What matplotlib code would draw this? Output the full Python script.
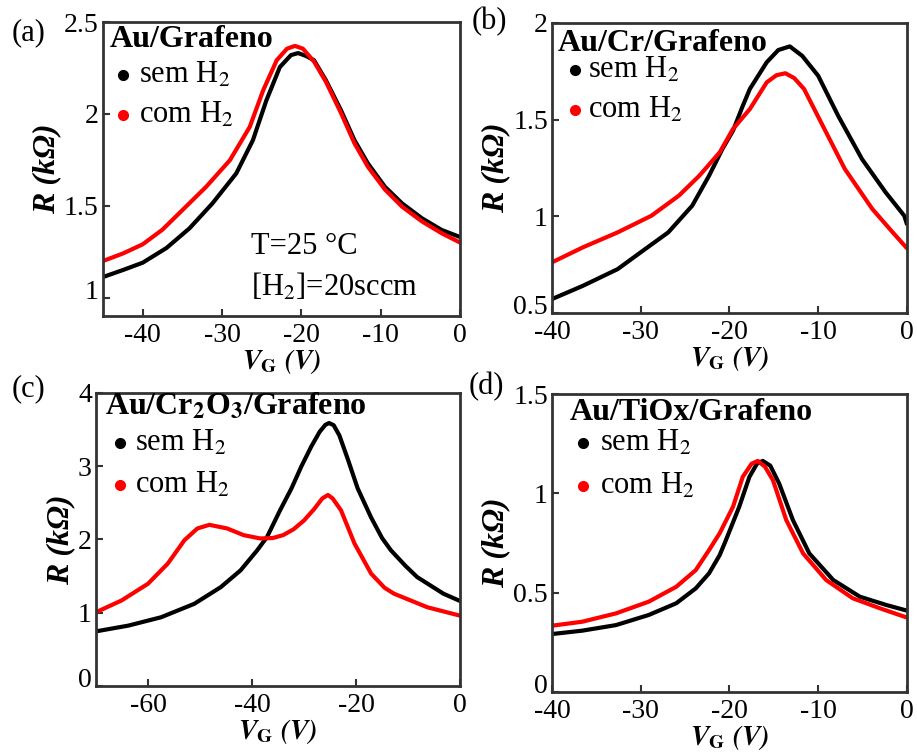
import matplotlib
matplotlib.use('Agg')
import matplotlib.pyplot as plt
import matplotlib.transforms as mtransforms
from matplotlib.ticker import FuncFormatter

plt.rcParams['font.family'] = ['Liberation Serif', 'DejaVu Serif']
plt.rcParams['mathtext.fontset'] = 'stix'
plt.rcParams['axes.unicode_minus'] = False

# (a) Au/Grafeno
va_sem = [-45.2, -42.5, -40, -37, -34.1, -31.2, -28.2, -26.1, -24.4, -22.7, -21.3, -20.4, -19.4, -18.4, -16.9,
          -15.0, -13.3, -11.6, -9.45, -7.3, -4.8, -2.3, 0]
ra_sem = [1.109, 1.15, 1.19, 1.27, 1.377, 1.513, 1.676, 1.857, 2.074, 2.255, 2.32, 2.331, 2.315, 2.292, 2.183,
          2.02, 1.857, 1.73, 1.603, 1.513, 1.432, 1.368, 1.33]
va_com = [-45.2, -42.5, -40, -37.5, -35.4, -32.0, -29.0, -26.5, -24.8, -23.1, -21.8, -20.8, -19.8, -18.4, -16.9,
          -15.0, -13.3, -11.6, -9.45, -7.3, -4.8, -2.3, 0]
ra_com = [1.196, 1.24, 1.29, 1.37, 1.459, 1.603, 1.748, 1.929, 2.129, 2.292, 2.355, 2.37, 2.355, 2.285, 2.175,
          2.005, 1.84, 1.712, 1.588, 1.495, 1.415, 1.35, 1.30]

# (b) Au/Cr/Grafeno
vb_sem = [-40, -36.5, -32.6, -30, -26.9, -24.2, -22.3, -20.8, -19.6, -18.6, -17.7, -15.8, -14.5, -13.2, -11.8,
          -10.0, -7.75, -5.06, -2.4, -0.3, 0]
rb_sem = [0.572, 0.641, 0.727, 0.814, 0.917, 1.055, 1.21, 1.348, 1.443, 1.56, 1.659, 1.797, 1.86, 1.879, 1.83,
          1.727, 1.52, 1.296, 1.124, 1.003, 0.96]
vb_com = [-40, -36.5, -32.6, -28.8, -25.7, -23.4, -21.1, -19.6, -17.7, -15.8, -14.7, -13.7, -12.7, -11.6, -9.3,
          -7.0, -3.9, -1.6, 0]
rb_com = [0.762, 0.84, 0.917, 1.003, 1.107, 1.21, 1.331, 1.452, 1.555, 1.693, 1.73, 1.74, 1.715, 1.659, 1.452,
          1.245, 1.038, 0.917, 0.835]

# (c) Au/Cr2O3/Grafeno
vc_sem = [-70, -63.8, -57.5, -51.1, -46.0, -42.2, -39.0, -37.1, -34.6, -32.4, -30.5, -28.6, -27.0, -25.9, -25.2,
          -24.3, -23.2, -21.6, -19.7, -17.1, -15.0, -13.3, -10.5, -8.25, -3.2, 0]
rc_sem = [0.746, 0.824, 0.938, 1.122, 1.35, 1.579, 1.853, 2.036, 2.40, 2.7, 3.0, 3.27, 3.47, 3.565, 3.59,
          3.56, 3.42, 3.1, 2.7, 2.3, 2.02, 1.853, 1.64, 1.487, 1.26, 1.16]
vc_com = [-70, -65.1, -60, -56.2, -53.0, -50.5, -48.2, -44.8, -41.6, -38.4, -36.0, -34.0, -32.0, -30.0, -28.0,
          -26.5, -25.4, -24.5, -22.9, -20.3, -17.1, -14.5, -12.7, -6.3, 0]
rc_com = [1.007, 1.167, 1.396, 1.671, 1.99, 2.151, 2.2, 2.151, 2.059, 2.014, 2.02, 2.06, 2.14, 2.26, 2.42,
          2.56, 2.608, 2.56, 2.40, 1.945, 1.534, 1.34, 1.26, 1.075, 0.96]

# (d) Au/TiOx/Grafeno
vd_sem = [-40, -36.6, -32.8, -29.1, -26.0, -23.8, -22.3, -21.1, -20.4, -18.9, -17.75, -16.9, -16.25, -15.4, -14.4,
          -12.85, -11.0, -8.3, -5.3, -2.3, 0]
rd_sem = [0.292, 0.309, 0.337, 0.388, 0.447, 0.522, 0.598, 0.69, 0.765, 0.933, 1.084, 1.15, 1.164, 1.14, 1.05,
          0.866, 0.698, 0.564, 0.48, 0.438, 0.41]
vd_com = [-40, -36.6, -32.8, -29.1, -26.0, -23.8, -22.3, -21.1, -19.6, -18.5, -17.5, -16.8, -16.0, -15.1, -13.6,
          -11.7, -9.1, -6.1, -3.0, 0]
rd_com = [0.334, 0.354, 0.396, 0.455, 0.53, 0.614, 0.715, 0.80, 0.933, 1.084, 1.15, 1.164, 1.135, 1.067, 0.866,
          0.698, 0.564, 0.472, 0.421, 0.375]

titles = ['Au/Grafeno', 'Au/Cr/Grafeno', r'Au/Cr$_\mathbf{2}$O$_\mathbf{3}$/Grafeno', 'Au/TiOx/Grafeno']
tags = ['(a)', '(b)', '(c)', '(d)']

panels = [
    dict(vs=va_sem, rs=ra_sem, vc=va_com, rc=ra_com,
         xlim=(-45, 0), ylim=(0.9, 2.5), xt=[-40, -30, -20, -10, 0], yt=[1, 1.5, 2, 2.5],
         rect=[0.1123, 0.5809, 0.3893, 0.3899], tag_xy=(0.013, 0.957),
         title_xy=(0.02, 0.939), dot_x=0.056, txt_x=0.10, rows=(0.82, 0.684)),
    dict(vs=vb_sem, rs=rb_sem, vc=vb_com, rc=rb_com,
         xlim=(-40, 0), ylim=(0.5, 2), xt=[-40, -30, -20, -10, 0], yt=[0.5, 1, 1.5, 2],
         rect=[0.602, 0.5849, 0.387, 0.3846], tag_xy=(0.514, 0.971),
         title_xy=(0.017, 0.931), dot_x=0.065, txt_x=0.101, rows=(0.838, 0.70)),
    dict(vs=vc_sem, rs=rc_sem, vc=vc_com, rc=rc_com,
         xlim=(-70, 0), ylim=(0, 4), xt=[-60, -40, -20, 0], yt=[0, 1, 2, 3, 4],
         rect=[0.1047, 0.0902, 0.397, 0.3886], tag_xy=(0.013, 0.485),
         title_xy=(0.025, 0.952), dot_x=0.066, txt_x=0.107, rows=(0.829, 0.686)),
    dict(vs=vd_sem, rs=rd_sem, vc=vd_com, rc=rd_com,
         xlim=(-40, 0), ylim=(0, 1.5), xt=[-40, -30, -20, -10, 0], yt=[0, 0.5, 1, 1.5],
         rect=[0.602, 0.0822, 0.387, 0.395], tag_xy=(0.511, 0.487),
         title_xy=(0.05, 0.94), dot_x=0.087, txt_x=0.135, rows=(0.836, 0.691)),
]

fig = plt.figure(figsize=(9.17, 7.54), dpi=100)
lift = mtransforms.ScaledTranslation(0, 6 / 72, fig.dpi_scale_trans)

for i, p in enumerate(panels):
    ax = fig.add_axes(p['rect'])
    ax.plot(p['vs'], p['rs'], '-', color='black', lw=3, solid_capstyle='round', solid_joinstyle='round')
    ax.plot(p['vc'], p['rc'], '-', color='#ff0000', lw=3, solid_capstyle='round', solid_joinstyle='round')
    ax.set_xlim(*p['xlim'])
    ax.set_ylim(*p['ylim'])
    ax.set_xticks(p['xt'])
    ax.set_yticks(p['yt'])
    ax.yaxis.set_major_formatter(FuncFormatter(lambda v, pos: '%g' % v))
    ax.tick_params(direction='in', length=5, width=1.5, labelsize=20, color='#333333', pad=3)
    ax.tick_params(axis='x', pad=5)
    for s in ax.spines.values():
        s.set_linewidth(2)
        s.set_color('#333333')
    # nudge the corner y label up so it clears the first x label
    lab0 = ax.yaxis.get_major_ticks()[0].label1
    lab0.set_transform(lab0.get_transform() + lift)

    ax.set_xlabel(r'$\mathbfit{V}_{\mathbf{G}}$ $\mathbfit{(V)}$', fontsize=20, labelpad=0)
    ax.set_ylabel('R (kΩ)', fontsize=23, fontweight='bold', style='italic', labelpad=2)

    # panel title and hand-placed legend
    ax.text(p['title_xy'][0], p['title_xy'][1], titles[i], transform=ax.transAxes,
            fontsize=23, fontweight='bold', va='center', ha='left')
    for y, c, lab in zip(p['rows'], ['black', '#ff0000'], ['sem H$_2$', 'com H$_2$']):
        ax.plot([p['dot_x']], [y], 'o', color=c, ms=7, transform=ax.transAxes, clip_on=False)
        ax.text(p['txt_x'], y, lab, transform=ax.transAxes, fontsize=22, va='center', ha='left')

    fig.text(p['tag_xy'][0], p['tag_xy'][1], tags[i], fontsize=22, va='center', ha='left')

ax_a = fig.axes[0]
ax_a.text(-26.3, 1.276, 'T=25 °C', fontsize=22, ha='left', va='center')
ax_a.text(-26.3, 1.058, '[H$_2$]=20sccm', fontsize=22, ha='left', va='center')

fig.savefig('out.png', dpi=100)
plt.close()
